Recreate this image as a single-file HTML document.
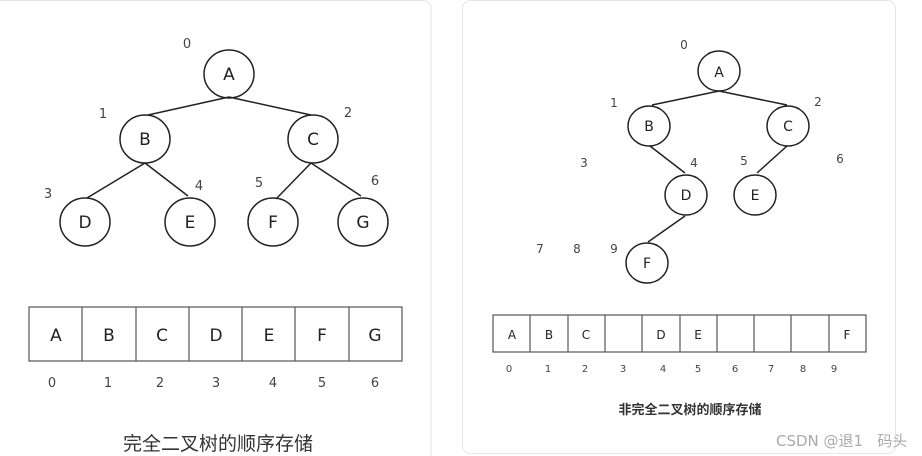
<!DOCTYPE html>
<html><head><meta charset="utf-8"><style>
html,body{margin:0;padding:0;background:#fff;width:922px;height:456px;overflow:hidden}
svg text{font-family:"DejaVu Sans","Liberation Sans","Noto Sans CJK SC",sans-serif}
</style></head><body>
<svg width="922" height="456" viewBox="0 0 922 456" xmlns="http://www.w3.org/2000/svg">
<rect x="-6" y="0.5" width="437" height="470" rx="8" fill="#fff" stroke="#e6e6e6"/>
<rect x="462.5" y="0.5" width="433" height="453" rx="8" fill="#fff" stroke="#e6e6e6"/>
<g stroke="#222" stroke-width="1.5" fill="none">
<line x1="229" y1="97" x2="148" y2="115"/><line x1="229" y1="97" x2="311" y2="115"/>
<line x1="145" y1="163" x2="87" y2="198"/><line x1="145" y1="163" x2="188" y2="196"/>
<line x1="311" y1="163" x2="276" y2="199"/><line x1="311" y1="163" x2="361" y2="196"/>
<ellipse cx="229" cy="74" rx="25" ry="24"/>
<ellipse cx="145" cy="139" rx="25" ry="24"/><ellipse cx="313" cy="139" rx="25" ry="24"/>
<ellipse cx="85" cy="222" rx="25" ry="24"/><ellipse cx="190" cy="222" rx="25" ry="24"/>
<ellipse cx="273" cy="222" rx="25" ry="24"/><ellipse cx="363" cy="222" rx="25" ry="24"/>
<line x1="719" y1="91" x2="652" y2="105"/><line x1="719" y1="91" x2="787" y2="105"/>
<line x1="650" y1="146" x2="685" y2="173"/><line x1="787" y1="146" x2="757" y2="173"/>
<line x1="685" y1="216" x2="648" y2="242"/>
<ellipse cx="719" cy="71" rx="21" ry="20"/>
<ellipse cx="649" cy="126" rx="21" ry="20"/><ellipse cx="788" cy="126" rx="21" ry="20"/>
<ellipse cx="686" cy="195" rx="21" ry="20"/><ellipse cx="755" cy="195" rx="21" ry="20"/>
<ellipse cx="647" cy="263" rx="21" ry="20"/>
</g>
<g font-size="17" fill="#222" text-anchor="middle">
<text x="229" y="80">A</text><text x="145" y="145">B</text><text x="313" y="145">C</text>
<text x="85" y="228">D</text><text x="190" y="228">E</text><text x="273" y="228">F</text><text x="363" y="228">G</text>
</g>
<g font-size="14" fill="#222" text-anchor="middle">
<text x="719" y="77">A</text><text x="649" y="131">B</text><text x="788" y="131">C</text>
<text x="686" y="200">D</text><text x="755" y="200">E</text><text x="647" y="268">F</text>
</g>
<g font-size="13" fill="#444" text-anchor="middle">
<text x="187" y="48">0</text><text x="103" y="118">1</text><text x="348" y="117">2</text>
<text x="48" y="198">3</text><text x="199" y="190">4</text><text x="259" y="187">5</text><text x="375" y="185">6</text>
</g>
<g font-size="12" fill="#444" text-anchor="middle">
<text x="684" y="49">0</text><text x="614" y="107">1</text><text x="818" y="106">2</text>
<text x="584" y="167">3</text><text x="694" y="167">4</text><text x="744" y="165">5</text><text x="840" y="163">6</text>
<text x="540" y="253">7</text><text x="577" y="253">8</text><text x="614" y="253">9</text>
</g>
<g stroke="#555" stroke-width="1.2" fill="none">
<rect x="29" y="307" width="373" height="54"/>
<line x1="82" y1="307" x2="82" y2="361"/><line x1="136" y1="307" x2="136" y2="361"/>
<line x1="189" y1="307" x2="189" y2="361"/><line x1="242" y1="307" x2="242" y2="361"/>
<line x1="295" y1="307" x2="295" y2="361"/><line x1="349" y1="307" x2="349" y2="361"/>
<rect x="493" y="315" width="373" height="37"/>
<line x1="530" y1="315" x2="530" y2="352"/><line x1="568" y1="315" x2="568" y2="352"/>
<line x1="605" y1="315" x2="605" y2="352"/><line x1="642" y1="315" x2="642" y2="352"/>
<line x1="680" y1="315" x2="680" y2="352"/><line x1="717" y1="315" x2="717" y2="352"/>
<line x1="754" y1="315" x2="754" y2="352"/><line x1="791" y1="315" x2="791" y2="352"/>
<line x1="829" y1="315" x2="829" y2="352"/>
</g>
<g font-size="17" fill="#222" text-anchor="middle">
<text x="56" y="341">A</text><text x="109" y="341">B</text><text x="162" y="341">C</text><text x="216" y="341">D</text>
<text x="269" y="341">E</text><text x="322" y="341">F</text><text x="375" y="341">G</text>
</g>
<g font-size="13" fill="#444" text-anchor="middle">
<text x="52" y="387">0</text><text x="108" y="387">1</text><text x="160" y="387">2</text><text x="216" y="387">3</text>
<text x="273" y="387">4</text><text x="322" y="387">5</text><text x="375" y="387">6</text>
</g>
<g font-size="12" fill="#222" text-anchor="middle">
<text x="512" y="339">A</text><text x="549" y="339">B</text><text x="586" y="339">C</text>
<text x="661" y="339">D</text><text x="698" y="339">E</text><text x="847" y="339">F</text>
</g>
<g font-size="10" fill="#444" text-anchor="middle">
<text x="509" y="372">0</text><text x="548" y="372">1</text><text x="585" y="372">2</text><text x="623" y="372">3</text>
<text x="663" y="372">4</text><text x="698" y="372">5</text><text x="735" y="372">6</text><text x="771" y="372">7</text>
<text x="803" y="372">8</text><text x="834" y="372">9</text>
</g>
<text x="218" y="450" font-size="19" fill="#333" text-anchor="middle">完全二叉树的顺序存储</text>
<text x="690" y="414" font-size="13" fill="#333" font-weight="bold" text-anchor="middle">非完全二叉树的顺序存储</text>
<text x="776" y="446" font-size="15" fill="#aaa">CSDN @退1&#160;&#160;&#160;码头</text>
</svg>
</body></html>
